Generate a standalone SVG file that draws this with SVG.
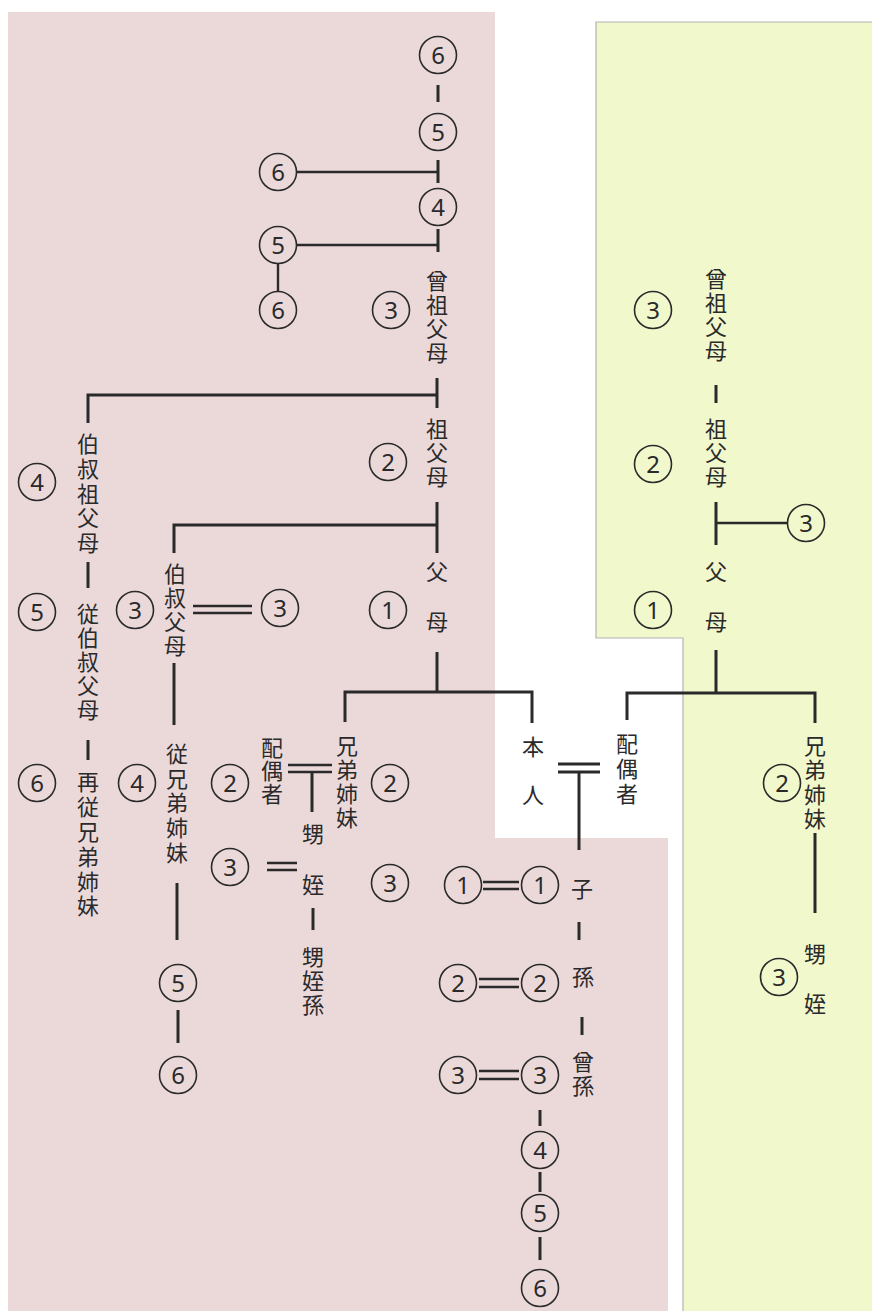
<svg xmlns="http://www.w3.org/2000/svg" width="872" height="1311" viewBox="0 0 872 1311">
<style>
.bgp{fill:#ebd9da}
.bgg{fill:#f1f8cc}
.edge{fill:none;stroke:#b4b4b4;stroke-width:1.2}
.t{font-family:"Noto Sans CJK JP","Noto Sans CJK SC",sans-serif;font-size:22px;fill:#2a2a2a;text-anchor:middle;dominant-baseline:central}
.n circle{fill:none;stroke:#2a2a2a;stroke-width:1.6}
.n text{font-family:"Noto Sans","DejaVu Sans",sans-serif;font-size:24px;fill:#2a2a2a;text-anchor:middle}
.c{stroke:#2a2a2a;stroke-width:3;fill:none}
.th{stroke:#2a2a2a;stroke-width:2.4;fill:none}
</style>
<rect x="0" y="0" width="872" height="1311" fill="#ffffff"/>
<path class="bgp" d="M8,12 H495 V838 H668 V1311 H8 Z"/>
<path class="bgg" d="M872,22 H596 V638 H683 V1311 H872 Z"/>
<path class="edge" d="M872,22 H596 V638 H683 V1311"/>

<g id="connectors">
  <path class="c" d="M438,85 V102"/>
  <path class="c" d="M438,160 V183"/>
  <path class="th" d="M297,172 H438"/>
  <path class="c" d="M438,229 V252"/>
  <path class="th" d="M297,245 H438"/>
  <path class="th" d="M278,264 V291"/>
  <path class="c" d="M437,378 V408 M437,395 H88 V423"/>
  <path class="c" d="M437,502 V553 M437,525 H174 V553"/>
  <path class="c" d="M88,562 V588"/>
  <path class="c" d="M88,740 V760"/>
  <path class="th" d="M193,606 H252 M193,613 H252"/>
  <path class="c" d="M174,663 V725"/>
  <path class="c" d="M437,652 V692 M345,722 V692 H532 V723"/>
  <path class="th" d="M288,765 H332 M288,772 H332"/>
  <path class="c" d="M312,772 V812"/>
  <path class="th" d="M267,863 H297 M267,870 H297"/>
  <path class="c" d="M313,908 V930"/>
  <path class="c" d="M177,883 V940"/>
  <path class="c" d="M178,1010 V1043"/>
  <path class="c" d="M558,764 H600 M558,772 H600"/>
  <path class="c" d="M579,772 V850"/>
  <path class="th" d="M483,882 H519 M483,889 H519"/>
  <path class="c" d="M579,922 V940"/>
  <path class="th" d="M479,979 H519 M479,987 H519"/>
  <path class="c" d="M582,1017 V1035"/>
  <path class="th" d="M479,1071 H519 M479,1079 H519"/>
  <path class="c" d="M540,1110 V1126"/>
  <path class="c" d="M540,1172 V1192"/>
  <path class="c" d="M540,1237 V1260"/>
  <path class="c" d="M716,385 V403"/>
  <path class="c" d="M716,502 V545"/>
  <path class="th" d="M716,523 H788"/>
  <path class="c" d="M716,650 V693 M627,720 V693 H815 V723"/>
  <path class="c" d="M815,833 V913"/>
</g>

<g id="p-sosofubo"><text class="t"><tspan x="437" y="279">曾</tspan><tspan x="437" y="303">祖</tspan><tspan x="437" y="327">父</tspan><tspan x="437" y="351">母</tspan></text></g>
<g id="p-sofubo"><text class="t"><tspan x="437" y="427">祖</tspan><tspan x="437" y="451">父</tspan><tspan x="437" y="475">母</tspan></text></g>
<g id="p-fubo"><text class="t"><tspan x="437" y="570">父</tspan><tspan x="437" y="620">母</tspan></text></g>
<g id="p-hakushukusofubo"><text class="t"><tspan x="88" y="442">伯</tspan><tspan x="88" y="467">叔</tspan><tspan x="88" y="492">祖</tspan><tspan x="88" y="516">父</tspan><tspan x="88" y="541">母</tspan></text></g>
<g id="p-juhakushukufubo"><text class="t"><tspan x="88" y="612">従</tspan><tspan x="88" y="636">伯</tspan><tspan x="88" y="660">叔</tspan><tspan x="88" y="684">父</tspan><tspan x="88" y="708">母</tspan></text></g>
<g id="p-saijukyodai"><text class="t"><tspan x="88" y="780">再</tspan><tspan x="88" y="805">従</tspan><tspan x="88" y="830">兄</tspan><tspan x="88" y="855">弟</tspan><tspan x="88" y="880">姉</tspan><tspan x="88" y="904">妹</tspan></text></g>
<g id="p-hakushukufubo"><text class="t"><tspan x="175" y="572">伯</tspan><tspan x="175" y="596">叔</tspan><tspan x="175" y="620">父</tspan><tspan x="175" y="644">母</tspan></text></g>
<g id="p-jukyodai"><text class="t"><tspan x="177" y="752">従</tspan><tspan x="177" y="777">兄</tspan><tspan x="177" y="801">弟</tspan><tspan x="177" y="826">姉</tspan><tspan x="177" y="851">妹</tspan></text></g>
<g id="p-haigusha"><text class="t"><tspan x="272" y="746">配</tspan><tspan x="272" y="769">偶</tspan><tspan x="272" y="792">者</tspan></text></g>
<g id="p-kyodai"><text class="t"><tspan x="347" y="744">兄</tspan><tspan x="347" y="768">弟</tspan><tspan x="347" y="792">姉</tspan><tspan x="347" y="816">妹</tspan></text></g>
<g id="p-oimei"><text class="t"><tspan x="313" y="832">甥</tspan><tspan x="313" y="883">姪</tspan></text></g>
<g id="p-oimeison"><text class="t"><tspan x="313" y="955">甥</tspan><tspan x="313" y="979">姪</tspan><tspan x="313" y="1003">孫</tspan></text></g>
<g id="honnin"><text class="t"><tspan x="533" y="745">本</tspan><tspan x="533" y="793">人</tspan></text></g>
<g id="haigusha"><text class="t"><tspan x="627" y="742">配</tspan><tspan x="627" y="767">偶</tspan><tspan x="627" y="792">者</tspan></text></g>
<g id="ko"><text class="t" x="582" y="887">子</text></g>
<g id="mago"><text class="t" x="583" y="975">孫</text></g>
<g id="himago"><text class="t"><tspan x="583" y="1060">曾</tspan><tspan x="583" y="1084">孫</tspan></text></g>

<g id="s-sosofubo"><text class="t"><tspan x="716" y="277">曾</tspan><tspan x="716" y="301">祖</tspan><tspan x="716" y="325">父</tspan><tspan x="716" y="349">母</tspan></text></g>
<g id="s-sofubo"><text class="t"><tspan x="716" y="427">祖</tspan><tspan x="716" y="451">父</tspan><tspan x="716" y="475">母</tspan></text></g>
<g id="s-fubo"><text class="t"><tspan x="716" y="570">父</tspan><tspan x="716" y="620">母</tspan></text></g>
<g id="s-kyodai"><text class="t"><tspan x="815" y="744">兄</tspan><tspan x="815" y="768">弟</tspan><tspan x="815" y="793">姉</tspan><tspan x="815" y="817">妹</tspan></text></g>
<g id="s-oimei"><text class="t"><tspan x="815" y="952">甥</tspan><tspan x="815" y="1002">姪</tspan></text></g>

<g id="d-top6" class="n"><circle cx="438" cy="55" r="18.5"/><text x="438" y="63.5">6</text></g>
<g id="d-top5" class="n"><circle cx="438" cy="132" r="18.5"/><text x="438" y="140.5">5</text></g>
<g id="d-l6a" class="n"><circle cx="278" cy="172" r="18.5"/><text x="278" y="180.5">6</text></g>
<g id="d-top4" class="n"><circle cx="438" cy="207" r="18.5"/><text x="438" y="215.5">4</text></g>
<g id="d-l5" class="n"><circle cx="278" cy="245" r="18.5"/><text x="278" y="253.5">5</text></g>
<g id="d-l6b" class="n"><circle cx="278" cy="310" r="18.5"/><text x="278" y="318.5">6</text></g>
<g id="d-p3" class="n"><circle cx="391" cy="310" r="18.5"/><text x="391" y="318.5">3</text></g>
<g id="d-p2" class="n"><circle cx="388" cy="462" r="18.5"/><text x="388" y="470.5">2</text></g>
<g id="d-p1" class="n"><circle cx="388" cy="610" r="18.5"/><text x="388" y="618.5">1</text></g>
<g id="d-g4" class="n"><circle cx="37" cy="482" r="18.5"/><text x="37" y="490.5">4</text></g>
<g id="d-g5" class="n"><circle cx="37" cy="612" r="18.5"/><text x="37" y="620.5">5</text></g>
<g id="d-g6" class="n"><circle cx="37" cy="783" r="18.5"/><text x="37" y="791.5">6</text></g>
<g id="d-u3" class="n"><circle cx="135" cy="610" r="18.5"/><text x="135" y="618.5">3</text></g>
<g id="d-us3" class="n"><circle cx="280" cy="608" r="18.5"/><text x="280" y="616.5">3</text></g>
<g id="d-c4" class="n"><circle cx="137" cy="783" r="18.5"/><text x="137" y="791.5">4</text></g>
<g id="d-c5" class="n"><circle cx="178" cy="983" r="18.5"/><text x="178" y="991.5">5</text></g>
<g id="d-c6" class="n"><circle cx="178" cy="1075" r="18.5"/><text x="178" y="1083.5">6</text></g>
<g id="d-bs2" class="n"><circle cx="230" cy="783" r="18.5"/><text x="230" y="791.5">2</text></g>
<g id="d-b2" class="n"><circle cx="390" cy="783" r="18.5"/><text x="390" y="791.5">2</text></g>
<g id="d-ns3" class="n"><circle cx="230" cy="867" r="18.5"/><text x="230" y="875.5">3</text></g>
<g id="d-n3" class="n"><circle cx="390" cy="883" r="18.5"/><text x="390" y="891.5">3</text></g>
<g id="d-ks1" class="n"><circle cx="463" cy="885" r="18.5"/><text x="463" y="893.5">1</text></g>
<g id="d-k1" class="n"><circle cx="540" cy="885" r="18.5"/><text x="540" y="893.5">1</text></g>
<g id="d-ms2" class="n"><circle cx="458" cy="983" r="18.5"/><text x="458" y="991.5">2</text></g>
<g id="d-m2" class="n"><circle cx="540" cy="983" r="18.5"/><text x="540" y="991.5">2</text></g>
<g id="d-hs3" class="n"><circle cx="458" cy="1075" r="18.5"/><text x="458" y="1083.5">3</text></g>
<g id="d-h3" class="n"><circle cx="540" cy="1075" r="18.5"/><text x="540" y="1083.5">3</text></g>
<g id="d-d4" class="n"><circle cx="540" cy="1150" r="18.5"/><text x="540" y="1158.5">4</text></g>
<g id="d-d5" class="n"><circle cx="540" cy="1213" r="18.5"/><text x="540" y="1221.5">5</text></g>
<g id="d-d6" class="n"><circle cx="540" cy="1288" r="18.5"/><text x="540" y="1296.5">6</text></g>
<g id="d-s3" class="n"><circle cx="653" cy="310" r="18.5"/><text x="653" y="318.5">3</text></g>
<g id="d-s2" class="n"><circle cx="653" cy="464" r="18.5"/><text x="653" y="472.5">2</text></g>
<g id="d-su3" class="n"><circle cx="806" cy="523" r="18.5"/><text x="806" y="531.5">3</text></g>
<g id="d-s1" class="n"><circle cx="653" cy="610" r="18.5"/><text x="653" y="618.5">1</text></g>
<g id="d-sb2" class="n"><circle cx="782" cy="783" r="18.5"/><text x="782" y="791.5">2</text></g>
<g id="d-sn3" class="n"><circle cx="779" cy="977" r="18.5"/><text x="779" y="985.5">3</text></g>
</svg>
